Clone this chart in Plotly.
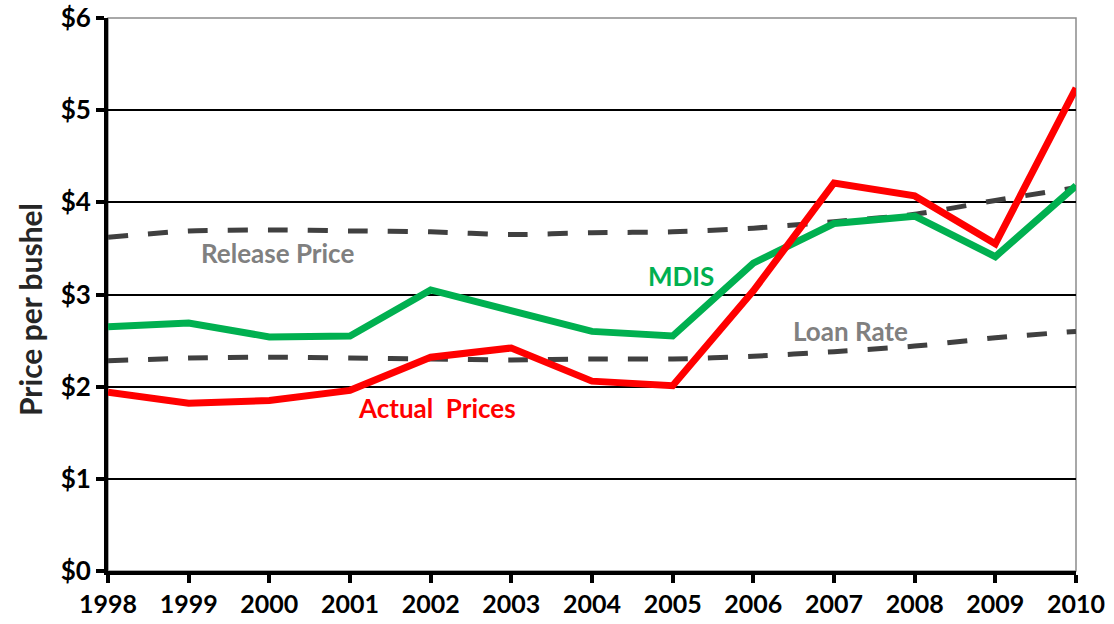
import plotly.graph_objects as go

years = list(range(1998, 2011))
actual_prices = [1.94, 1.82, 1.85, 1.96, 2.32, 2.42, 2.06, 2.01, 3.04, 4.21, 4.07, 3.55, 5.24]
mdis = [2.65, 2.69, 2.54, 2.55, 3.05, 2.83, 2.60, 2.55, 3.34, 3.77, 3.85, 3.41, 4.18]
release_price = [3.62, 3.69, 3.70, 3.69, 3.68, 3.65, 3.67, 3.68, 3.72, 3.79, 3.87, 4.02, 4.16]
loan_rate = [2.28, 2.31, 2.32, 2.31, 2.30, 2.29, 2.30, 2.30, 2.33, 2.38, 2.44, 2.53, 2.60]
y_ticks = [0, 1, 2, 3, 4, 5, 6]
y_tick_labels = ["$0", "$1", "$2", "$3", "$4", "$5", "$6"]

FONT = "Lato"
fig = go.Figure()
fig.add_trace(go.Scatter(x=years, y=release_price, mode="lines", line=dict(color="#404040", width=5, dash="20px,20px", shape="spline", smoothing=0.6), showlegend=False))
fig.add_trace(go.Scatter(x=years, y=loan_rate, mode="lines", line=dict(color="#404040", width=5, dash="20px,20px", shape="spline", smoothing=0.6), showlegend=False))
fig.add_trace(go.Scatter(x=years, y=mdis, mode="lines", line=dict(color="#00B050", width=7), showlegend=False))
fig.add_trace(go.Scatter(x=years, y=actual_prices, mode="lines", line=dict(color="#FF0000", width=7), showlegend=False))

ann = [
    ("Release Price", 2000.1, 3.45, "#808080"),
    ("MDIS", 2005.1, 3.2, "#00B050"),
    ("Loan Rate", 2007.2, 2.6, "#808080"),
    ("Actual  Prices", 2002.08, 1.77, "#FF0000"),
]
for t, x, y, c in ann:
    fig.add_annotation(x=x, y=y, text=f"<b>{t}</b>", showarrow=False, font=dict(family=FONT, size=26, color=c))

fig.add_annotation(xref="paper", yref="paper", x=(30 - 108) / 968, y=(571 - 310) / 553, xanchor="center", yanchor="middle",
                   textangle=-90, showarrow=False, text="<b>Price per bushel</b>", font=dict(family=FONT, size=30, color="#262626"))

fig.update_layout(
    width=1114, height=624,
    margin=dict(l=108, r=38, t=18, b=53),
    plot_bgcolor="white", paper_bgcolor="white",
    font=dict(family=FONT, size=26, color="black"),
    xaxis=dict(range=[1998, 2010], tickmode="array", tickvals=years, ticktext=[f"<b>{y}</b>" for y in years],
               showgrid=False, zeroline=False, showline=True, linecolor="black", linewidth=4, automargin=False,
               ticks="outside", ticklen=8, tickwidth=4, tickcolor="black", tickfont=dict(size=25, family=FONT)),
    yaxis=dict(range=[0, 6], tickmode="array", tickvals=y_ticks, ticktext=[f"<b>{t}</b>" for t in y_tick_labels],
               showgrid=True, gridcolor="black", gridwidth=1.5, zeroline=False, showline=True, linecolor="black", linewidth=4, automargin=False,
               ticks="outside", ticklen=8, tickwidth=4, tickcolor="black", tickfont=dict(size=26, family=FONT)),
)
fig.add_shape(type="rect", xref="paper", yref="paper", x0=0, x1=1, y0=0, y1=1, line=dict(color="#8C8C8C", width=1.5), layer="below")
fig.write_html("out.html", config={"displayModeBar": False}, post_script="document.body.style.margin='0px';")
